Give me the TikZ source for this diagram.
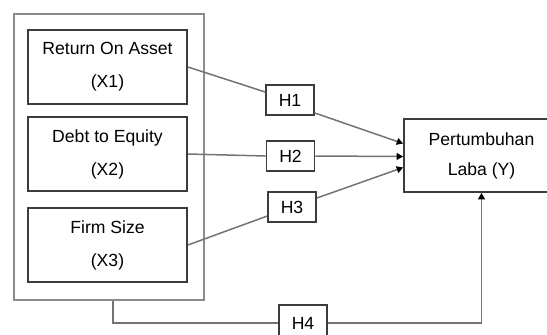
\documentclass[tikz,border=0pt]{standalone}
\usepackage{fontspec}
\setmainfont{Liberation Sans}
\usepackage{tikz}
\usetikzlibrary{arrows.meta,positioning,calc}
\definecolor{ink}{RGB}{60,60,60}
\definecolor{wire}{RGB}{115,115,115}
\definecolor{frame}{RGB}{140,140,140}
\tikzset{
  var/.style={draw=ink,line width=0.9pt,minimum width=79.5pt,minimum height=37pt,
    inner sep=0pt,align=center,font=\fontsize{8.8}{16.5}\selectfont},
  hyp/.style={draw=ink,line width=0.9pt,minimum width=24pt,minimum height=15pt,
    inner sep=0pt,font=\fontsize{8.8}{10}\selectfont},
  ln/.style={draw=wire,line width=0.75pt},
  ar/.style={ln,-{Triangle[length=3.2pt,width=3.4pt,color=black]}},
}
\begin{document}
\begin{tikzpicture}[x=0.5pt,y=-0.5pt]
  \useasboundingbox (0,0) rectangle (547,334);
  \node[draw=frame,line width=0.7pt,minimum width=95pt,minimum height=143pt] (outer) at (109,157) {};
  \foreach \i/\yy/\lab in {1/67/{Return On Asset\\(X1)},2/154/{Debt to Equity\\(X2)},3/245/{Firm Size\\(X3)}} {
    \node[var] (x\i) at (107.5,\yy) {\lab};
  }
  \foreach \i/\xx/\yy in {1/290/100,2/290.5/156,3/292/207} {
    \node[hyp] (h\i) at (\xx,\yy) {H\i};
  }
  \node[hyp,minimum height=18pt] (h4) at (303,323) {H4};
  \node[draw=ink,line width=0.9pt,minimum width=77.5pt,minimum height=36.5pt,
    inner sep=0pt,align=center,font=\fontsize{8.8}{15}\selectfont] (y) at (481.5,155.5) {Pertumbuhan\\Laba (Y)};
  % paths to Y
  \draw[ln] (x1.east) -- (h1);
  \draw[ar] ([yshift=-6.5pt]h1.east) -- ([yshift=6pt]y.west);
  \draw[ln] (x2.east) -- (h2.west);
  \draw[ar] (h2.east) -- ([yshift=-0.5pt]y.west);
  \draw[ln] (x3.east) -- (h3);
  \draw[ar] ([yshift=4.5pt]h3.east) -- ([yshift=-6pt]y.west);
  \draw[ln] ([xshift=2pt]outer.south) |- (h4.west);
  \draw[ar] (h4.east) -| (y.south);
\end{tikzpicture}
\end{document}
